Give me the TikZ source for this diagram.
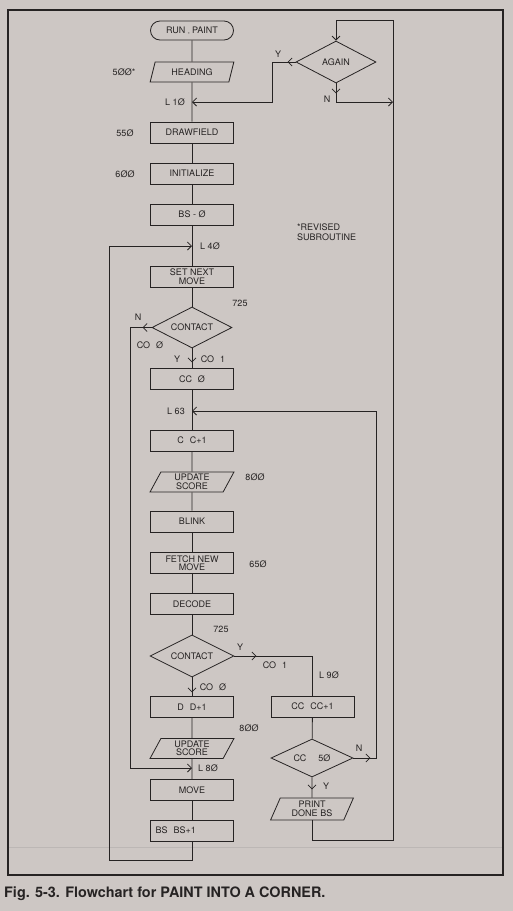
\documentclass[tikz,border=0pt]{standalone}
\usepackage{fontspec}
\setmainfont{TeX Gyre Heros}
\usetikzlibrary{arrows.meta,shapes.geometric,shapes.misc,decorations.markings}
\definecolor{paper}{RGB}{205,199,196}
\definecolor{ink}{RGB}{38,35,35}
\definecolor{faint}{RGB}{188,183,181}
\newcommand\flowfont{\fontsize{9}{8.5}\selectfont}
\tikzset{
  ln/.style={draw=ink, line width=0.8pt},
  >={Straight Barb[length=4pt,width=8pt,line width=0.8pt]},
  box/.style={ln, rectangle, minimum width=83pt, minimum height=21pt, inner sep=0pt, align=center, font=\flowfont, text=ink},
  io/.style={ln, trapezium, trapezium left angle=68, trapezium right angle=112, trapezium stretches=true, minimum width=84pt, minimum height=20pt, inner sep=0pt, align=center, font=\flowfont, text=ink},
  dec/.style={ln, diamond, aspect=2, minimum width=80pt, minimum height=42pt, inner sep=0pt, font=\flowfont, text=ink},
  term/.style={ln, rounded rectangle, minimum width=83pt, minimum height=19pt, inner sep=0pt, font=\flowfont, text=ink},
  tag/.style={font=\flowfont, text=ink, inner sep=0pt},
  flow/.style={ln},
  arrowat/.style={postaction={decorate, decoration={markings, mark=at position #1 with {\arrow{>}}}}},
}
\begin{document}
\begin{tikzpicture}[x=1pt,y=-1pt]
\fill[paper] (0,0) rectangle (513,911);
\useasboundingbox (0,0) rectangle (513,911);
% frame
\draw[ink, line width=1.6pt] (8,10) rectangle (503,875);
\draw[faint, line width=0.8pt] (9,847) -- (502,847);

% main column
\node[term] (run) at (192,30.5) {RUN {\fontsize{5}{5}\selectfont ,,} PAINT};
\node[io] (head) at (192,72) {HEADING};
\coordinate (L1) at (192,102);
\node[box] (drawf) at (192,132.5) {DRAWFIELD};
\node[box] (init) at (192,173.5) {INITIALIZE};
\node[box] (bs0) at (192,214.5) {BS - Ø};
\coordinate (L4) at (192,246);
\node[box] (setnext) at (192,276.5) {SET NEXT\\MOVE};
\node[dec, minimum height=41pt] (c1) at (192,327.5) {CONTACT};
\node[box] (cc0) at (192,379) {CC\hspace{6pt}Ø};
\coordinate (L63) at (192,411);
\node[box] (cinc) at (192,440.5) {C\hspace{6pt}C+1};
\node[io] (upd1) at (192,482) {UPDATE\\SCORE};
\node[box] (blink) at (192,521.5) {BLINK};
\node[box] (fetch) at (192,563) {FETCH NEW\\MOVE};
\node[box] (decode) at (192,604) {DECODE};
\node[dec, minimum width=84pt] (c2) at (192,656) {CONTACT};
\node[box] (dinc) at (192,707) {D\hspace{6pt}D+1};
\node[io] (upd2) at (192,748.5) {UPDATE\\SCORE};
\coordinate (L8) at (192,768);
\node[box] (move) at (192,790) {MOVE};
\node[box, text width=73pt, align=left] (bsinc) at (192,830.5) {BS\hspace{6pt}BS+1};

% right column
\node[dec] (again) at (336,62) {AGAIN};
\node[box] (ccinc) at (312.5,706.5) {CC\hspace{6pt}CC+1};
\node[dec, minimum width=82pt, minimum height=38pt] (c3) at (312,758) {CC\hspace{12pt}5Ø};
\node[io, minimum width=83pt, minimum height=22pt] (print) at (312,809) {PRINT\\DONE BS};

% helper coordinates
\coordinate (ay) at (272,102);
\coordinate (an) at (393,102);
\coordinate (lpb) at (393,840);
\coordinate (lpt) at (393,20);
\coordinate (n1) at (130,768);
\coordinate (bl) at (109,860);
\coordinate (c2y) at (313,657);
\coordinate (c3n) at (376,411);

% connectors main column
\draw[flow] (run) -- (head);
\draw[flow] (head) -- (drawf);
\draw[flow] (drawf) -- (init);
\draw[flow] (init) -- (bs0);
\draw[flow] (bs0) -- (setnext);
\draw[flow] (setnext) -- (c1);
\draw[flow, arrowat=14pt] (c1.south) -- (cc0.north);
\draw[flow] (cc0) -- (cinc);
\draw[flow] (cinc) -- (upd1);
\draw[flow] (upd1) -- (blink);
\draw[flow] (blink) -- (fetch);
\draw[flow] (fetch) -- (decode);
\draw[flow] (decode) -- (c2);
\draw[flow, arrowat=15pt] (c2.south) -- (dinc.north);
\draw[flow] (dinc) -- (upd2);
\draw[flow] (upd2) -- (move);
\draw[flow] (move) -- (bsinc);

% loops
\draw[flow, ->, arrowat=8pt] (again.west) -| (ay) -- (L1);
\draw[flow, ->, arrowat=10pt] (again.south) |- (an);
\draw[flow, ->] (print.south) |- (lpb) -- (lpt) -| (again.north);
\draw[flow, ->, arrowat=9pt] (c1.west) -| (n1) -- (L8);
\draw[flow, ->] (bsinc.south) |- (bl) |- (L4);
\draw[flow, arrowat=22pt] (c2.east) -| (ccinc.north);
\draw[flow] (ccinc) -- (c3);
\draw[flow, ->, arrowat=17pt] (c3.east) -| (c3n) -- (L63);
\draw[flow, arrowat=12pt] (c3.south) -- (print.north);

% labels
\node[tag] at (124,72) {5ØØ*};
\node[tag] at (125,133) {55Ø};
\node[tag] at (125,174) {6ØØ};
\node[tag] at (175,102) {L 1Ø};
\node[tag] at (278,54) {Y};
\node[tag] at (327,99) {N};
\node[tag, align=left, anchor=west, font=\fontsize{9}{10.5}\selectfont] at (297,232) {*REVISED\\SUBROUTINE};
\node[tag] at (210,246) {L 4Ø};
\node[tag] at (240,303) {725};
\node[tag] at (138,317) {N};
\node[tag] at (150,345) {CO\hspace{6pt}Ø};
\node[tag] at (177,359) {Y};
\node[tag] at (213,359) {CO\hspace{6pt}1};
\node[tag] at (176,411) {L 63};
\node[tag] at (255,477) {8ØØ};
\node[tag] at (258,564) {65Ø};
\node[tag] at (221,629) {725};
\node[tag] at (240,647) {Y};
\node[tag] at (275,665) {CO\hspace{6pt}1};
\node[tag] at (329,675) {L 9Ø};
\node[tag] at (213,687) {CO\hspace{6pt}Ø};
\node[tag] at (249,728) {8ØØ};
\node[tag] at (359,748) {N};
\node[tag] at (326,786) {Y};
\node[tag] at (208,768) {L 8Ø};

% caption
\node[anchor=base west, inner sep=0pt, text=ink, font=\fontsize{14.4}{14.4}\selectfont\bfseries] (cap) at (4,897) {Fig. 5-3. Flowchart for PAINT INTO A CORNER.};
\end{tikzpicture}
\end{document}
